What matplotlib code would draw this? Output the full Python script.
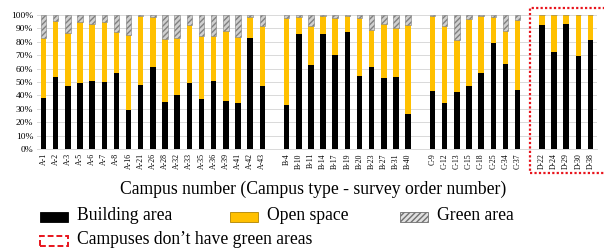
import matplotlib
matplotlib.use("Agg")
import matplotlib.pyplot as plt
from matplotlib.patches import Rectangle
import matplotlib.transforms as mtransforms
import numpy as np

plt.rcParams['font.family'] = ['Liberation Serif', 'DejaVu Serif']

# ---- data (percent of campus area) ----
campuses = ["A-1", "A-2", "A-3", "A-5", "A-6", "A-7", "A-8", "A-16", "A-21", "A-26",
            "A-28", "A-32", "A-33", "A-35", "A-36", "A-39", "A-41", "A-42", "A-43",
            "B-4", "B-10", "B-11", "B-14", "B-17", "B-19", "B-20", "B-23", "B-27", "B-31", "B-40",
            "C-9", "C-12", "C-13", "C-15", "C-18", "C-25", "C-34", "C-37",
            "D-22", "D-24", "D-29", "D-30", "D-38"]
building = [38, 54, 47, 49, 51, 50, 56.5, 29, 48, 61.5,
            35, 40.5, 49.5, 37.5, 50.5, 35.5, 34.5, 83, 47,
            32.5, 86, 62.5, 85.5, 70, 87.5, 54.5, 61.5, 53, 54, 26,
            43, 34, 42.5, 47, 57, 79, 63.5, 44,
            92.5, 72.5, 93, 69.5, 81]
open_space = [45, 41.5, 39.5, 45.5, 42, 45, 31, 56, 51.5, 37,
              47, 42.5, 43, 47, 34, 52.5, 49, 15.5, 44.5,
              65, 12.5, 29, 13.5, 28, 11.5, 43, 27, 40.5, 36, 66.5,
              56, 57.5, 39, 50, 42, 19.5, 24.5, 52.5,
              7.5, 27.5, 7, 30.5, 19]
green = [17, 4.5, 13.5, 5.5, 7, 5, 12.5, 15, 0.5, 1.5,
         18, 17, 7.5, 15.5, 15.5, 12, 16.5, 1.5, 8.5,
         2.5, 1.5, 8.5, 1, 2, 1, 2.5, 11.5, 6.5, 10, 7.5,
         1, 8.5, 18.5, 3, 1, 1.5, 12, 3.5,
         0, 0, 0, 0, 0]
yticks = [0, 10, 20, 30, 40, 50, 60, 70, 80, 90, 100]

# positions: one empty slot between campus types
pos = []
p = 0
prev = None
for c in campuses:
    t = c.split("-")[0]
    if prev is not None and t != prev:
        p += 1
    pos.append(p)
    prev = t
    p += 1
pos = np.array(pos)

W, H = 604, 252
fig = plt.figure(figsize=(W / 100, H / 100), dpi=100)
left, right, top, bottom = 37.4, 596.6, 15, 149
ax = fig.add_axes([left / W, 1 - bottom / H, (right - left) / W, (bottom - top) / H])

b = np.array(building)
o = np.array(open_space)
g = np.array(green)
bw = 0.45
ax.bar(pos, b, bw, color='black', zorder=3)
ax.bar(pos, o, bw, bottom=b, color='#FFC000', zorder=3)
ax.bar(pos, g, bw, bottom=b + o, facecolor='#d0d0d0', edgecolor='#808080',
       hatch='//////', linewidth=0.4, zorder=3)

ax.set_xlim(-0.5, pos[-1] + 0.5)
ax.set_ylim(0, 100)
ax.set_yticks(yticks)
ax.set_yticklabels([f"{v}%" for v in yticks], fontsize=6.8)
ax.set_xticks(pos)
ax.set_xticklabels(campuses, rotation=90, fontsize=5.6)
ax.tick_params(axis='both', length=0, pad=3)
ax.grid(axis='y', color='#d9d9d9', linewidth=0.7, zorder=0)
for s in ['top', 'right', 'left']:
    ax.spines[s].set_visible(False)
ax.spines['bottom'].set_color('#d9d9d9')
ax.spines['bottom'].set_linewidth(0.7)

# red dotted box around D campuses (right edge runs off the canvas)
d_idx = [i for i, c in enumerate(campuses) if c.startswith("D")]
trans = mtransforms.blended_transform_factory(ax.transData, ax.transAxes)
x0 = pos[d_idx[0]] - 1.0
x1 = pos[d_idx[-1]] + 1.6
y0 = -(173 - bottom) / (bottom - top)
y1 = 1 + (top - 8) / (bottom - top)
ax.add_patch(Rectangle((x0, y0), x1 - x0, y1 - y0, transform=trans, fill=False,
                       edgecolor='#e8141c', linewidth=1.6, linestyle=(0, (1, 1)),
                       clip_on=False, zorder=5))

# x axis title
fig.text(313 / W, 1 - 189 / H, "Campus number (Campus type - survey order number)",
         ha='center', va='center', fontsize=12.7)

# legend (drawn manually in figure pixel coordinates)
def leg_item(x, yc, label, **kw):
    fig.patches.append(Rectangle((x / W, 1 - (yc + 5) / H), 28 / W, 10 / H,
                                 transform=fig.transFigure, figure=fig, **kw))
    fig.text((x + 37) / W, 1 - (yc - 1) / H, label, ha='left', va='center', fontsize=12.7)

leg_item(40, 217, "Building area", facecolor='black', edgecolor='black', linewidth=0.6)
leg_item(230, 217, "Open space", facecolor='#FFC000', edgecolor='#b08400', linewidth=0.6)
leg_item(400, 217, "Green area", facecolor='#e0e0e0', edgecolor='#707070', hatch='//////', linewidth=0.6)
leg_item(40, 241, "Campuses don\u2019t have green areas", facecolor='white', edgecolor='#e8141c',
         linewidth=1.4, linestyle=(0, (3, 1.5)))

fig.savefig("out.png", dpi=100)
